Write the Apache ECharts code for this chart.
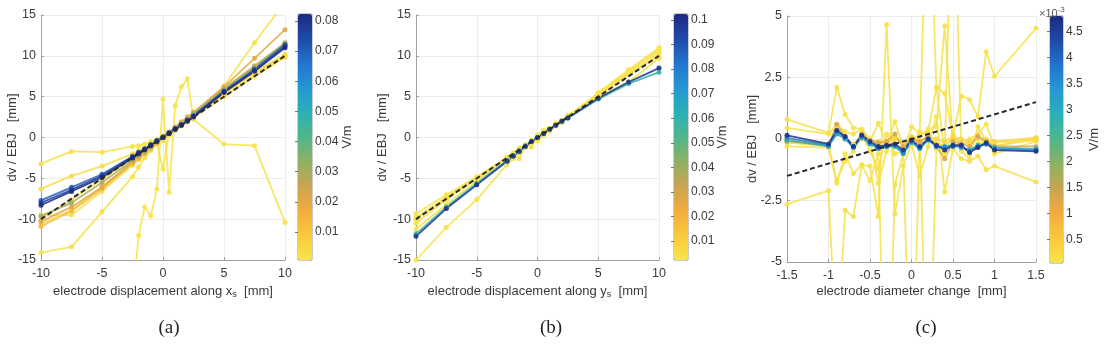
<!DOCTYPE html>
<html>
<head>
<meta charset="utf-8">
<title>dv / EBJ sensitivity</title>
<script src="https://cdn.jsdelivr.net/npm/echarts@6/dist/echarts.min.js"></script>
<style>
  html, body { margin: 0; padding: 0; background: #fff; }
  #main { width: 1111px; height: 354px; }
</style>
</head>
<body>
<div id="main"></div>
<script>
// x positions of the measurements
var xDisp = [-10, -7.5, -5, -2.5, -2, -1.5, -1, -0.5, 0, 0.5, 1, 1.5, 2, 2.5, 5, 7.5, 10];
var xDiam = [-1.5, -1, -0.9, -0.8, -0.7, -0.6, -0.5, -0.4, -0.3, -0.2, -0.1, 0, 0.1, 0.2, 0.3, 0.4, 0.5, 0.6, 0.7, 0.8, 0.9, 1, 1.5];

// (a) displacement along x_s : field value (V/m) of each line, and its dv/EBJ values
var fieldA = [0.001, 0.002, 0.002, 0.003, 0.002, 0.003, 0.004, 0.013, 0.021, 0.030, 0.070, 0.078, 0.082];
var dvA = [
  [-40, -32, -26, -20, -12.0, -8.5, -9.6, -6.3, 4.7, -6.7, 3.9, 6.2, 7.2, 2.2, -0.8, -1.0, -10.4],
  [-14.1, -13.4, -9.1, -4.8, -3.6, -2.5, -1.6, -0.8, -3.9, 0.6, 1.2, 1.7, 2.2, 2.8, 5.6, 8.0, 10.2],
  [-3.2, -1.7, -1.8, -1.1, -1.0, -0.8, -0.5, -0.2, 0.2, 0.7, 1.2, 1.7, 2.3, 2.9, 6.3, 11.6, 16.6],
  [-6.3, -4.7, -3.5, -2.0, -1.6, -1.3, -0.9, -0.4, 0.0, 0.5, 1.0, 1.5, 2.0, 2.6, 5.3, 7.8, 10.0],
  [-9.5, -9.5, -6.6, -3.4, -2.7, -1.9, -1.3, -0.7, -0.4, 0.3, 0.8, 1.4, 1.9, 2.4, 5.4, 8.0, 10.1],
  [-10.0, -7.6, -5.1, -2.6, -2.1, -1.6, -1.1, -0.5, 0.0, 0.5, 1.0, 1.5, 2.0, 2.5, 5.0, 7.5, 9.8],
  [-10.6, -8.9, -6.0, -3.0, -2.5, -1.9, -1.3, -0.6, 0.0, 0.6, 1.2, 1.8, 2.4, 3.0, 5.9, 8.6, 11.3],
  [-10.9, -9.0, -6.3, -3.2, -2.6, -2.0, -1.4, -0.7, 0.0, 0.6, 1.3, 1.9, 2.5, 3.0, 6.0, 8.8, 11.5],
  [-10.3, -8.5, -6.1, -3.0, -2.4, -1.8, -1.2, -0.6, 0.0, 0.6, 1.2, 1.9, 2.5, 3.1, 6.2, 9.7, 13.2],
  [-9.6, -8.0, -5.5, -2.8, -2.2, -1.7, -1.1, -0.5, 0.0, 0.6, 1.2, 1.7, 2.3, 2.9, 5.9, 8.7, 11.6],
  [-7.7, -6.1, -4.5, -2.3, -1.8, -1.4, -0.9, -0.4, 0.1, 0.6, 1.1, 1.6, 2.1, 2.7, 5.7, 8.4, 11.4],
  [-8.0, -6.4, -4.7, -2.4, -1.9, -1.4, -0.9, -0.4, 0.0, 0.5, 1.0, 1.5, 2.1, 2.6, 5.6, 8.2, 11.2],
  [-8.3, -6.6, -4.9, -2.5, -2.0, -1.5, -1.0, -0.5, 0.0, 0.5, 1.0, 1.5, 2.0, 2.5, 5.5, 8.1, 11.0]
];

// (b) displacement along y_s
var fieldB = [0.003, 0.002, 0.003, 0.003, 0.002, 0.004, 0.060, 0.100];
var dvB = [
  [-15.0, -11.0, -7.6, -3.3, -2.6, -1.9, -1.2, -0.6, 0.0, 0.6, 1.1, 1.6, 2.1, 2.6, 5.1, 7.8, 10.3],
  [-11.2, -8.2, -5.3, -2.6, -2.1, -1.6, -1.0, -0.5, 0.0, 0.5, 1.0, 1.6, 2.1, 2.6, 5.3, 8.0, 10.9],
  [-10.5, -7.6, -5.0, -2.5, -2.0, -2.6, -1.0, -0.7, -0.2, 0.4, 0.9, 1.8, 1.8, 2.6, 5.4, 8.1, 10.6],
  [-9.8, -7.3, -4.9, -2.4, -1.9, -1.3, -0.9, -1.2, 0.3, 0.9, 1.1, 1.5, 2.0, 2.7, 5.2, 7.7, 10.0],
  [-9.3, -7.0, -4.8, -2.5, -2.0, -1.5, -0.9, -0.3, -0.4, 0.2, 0.8, 1.4, 2.0, 2.5, 5.5, 8.3, 11.0],
  [-10.0, -7.4, -5.0, -2.5, -2.0, -1.5, -1.0, -0.5, 0.0, 0.5, 1.0, 1.5, 2.0, 2.5, 5.0, 6.8, 9.7],
  [-11.8, -8.5, -5.6, -2.8, -2.2, -1.6, -1.0, -0.5, 0.0, 0.5, 1.0, 1.5, 2.0, 2.4, 4.7, 6.6, 8.0],
  [-12.1, -8.7, -5.8, -2.9, -2.3, -1.7, -1.1, -0.5, 0.0, 0.5, 1.0, 1.5, 2.0, 2.4, 4.8, 6.8, 8.5]
];

// (c) diameter change, field in units of 1e-3 V/m
var fieldC = [0.1, 0.1, 0.1, 0.1, 0.1, 0.2, 0.3, 1.3, 3.0, 3.6, 4.7];
var dvC = [
  [0.8, 0.25, 2.1, 1.0, 0.45, 0.4, -0.1, 0.65, -0.2, 0.7, -0.3, 0.0, 0.2, 0.3, 2.1, 1.85, 0.1, 1.75, 1.6, 0.9, 3.55, 2.55, 4.5],
  [0.45, 0.2, 0.6, 0.3, 0.2, 0.4, 0.0, -1.8, -0.5, 0.1, -0.3, -0.2, 0.1, 0.4, 0.5, 4.6, -0.2, -0.3, 0.0, 0.2, 0.6, -0.3, 0.05],
  [-2.65, -2.1, -9.0, -2.9, -3.15, -1.05, -1.1, -3.15, 4.65, -3.05, -1.1, -0.2, -1.5, -0.3, 0.9, -2.15, -0.4, -0.8, -0.9, -0.7, -1.25, -1.1, -1.75],
  [-0.3, -0.35, -1.8, -0.6, -1.4, -1.05, -1.7, -0.6, -14, -1.85, -0.6, -12, 0.3, 12, 2.1, -0.6, 0.2, -0.3, -0.6, -0.2, -0.1, -0.6, -0.1],
  [-0.1, -0.25, -1.7, -0.9, -0.5, 0.2, -0.5, -1.2, 0.2, -0.6, -0.5, 0.5, 0.2, -12, -0.4, -0.5, 12, -0.5, -0.8, 0.5, -0.1, -0.3, 0.0],
  [-0.15, -0.3, 0.5, 0.05, -0.25, 0.1, -0.1, -0.2, -0.15, 0.1, -0.25, 0.0, -0.2, 0.2, -0.2, -0.25, 0.0, -0.1, -0.2, 0.0, -0.1, -0.15, -0.05],
  [0.0, -0.2, 0.4, 0.0, -0.2, 0.0, -0.1, -0.1, -0.1, 0.0, -0.2, 0.1, -0.1, 0.1, 0.0, -0.1, 0.1, 0.0, -0.1, 0.1, 0.0, -0.1, 0.05],
  [-0.1, -0.25, 0.6, 0.1, -0.3, 0.2, -0.05, -0.15, -0.1, 0.2, -0.3, 0.0, -0.1, 0.1, -0.3, -0.8, -0.1, -0.2, -0.3, 0.1, -0.1, -0.3, -0.3],
  [-0.05, -0.3, 0.2, 0.0, -0.35, 0.05, -0.2, -0.4, -0.3, -0.3, -0.6, -0.15, -0.4, -0.05, -0.3, -0.3, -0.25, -0.35, -0.45, -0.25, -0.2, -0.35, -0.4],
  [0.05, -0.25, 0.3, 0.05, -0.3, 0.1, -0.15, -0.35, -0.3, -0.25, -0.55, -0.1, -0.35, 0.0, -0.3, -0.35, -0.3, -0.3, -0.5, -0.3, -0.2, -0.4, -0.45],
  [0.15, -0.2, 0.35, 0.1, -0.3, 0.15, -0.1, -0.3, -0.25, -0.2, -0.45, -0.05, -0.3, 0.0, -0.25, -0.45, -0.25, -0.25, -0.55, -0.35, -0.15, -0.45, -0.5]
];

// colour bar ranges and tick labels
var rangeA = [0.0007, 0.0823], ticksA = [0.01, 0.02, 0.03, 0.04, 0.05, 0.06, 0.07, 0.08];
var rangeB = [0.0023, 0.1024], ticksB = [0.01, 0.02, 0.03, 0.04, 0.05, 0.06, 0.07, 0.08, 0.09, 0.1];
var rangeC = [0.05, 4.8], ticksC = [0.5, 1, 1.5, 2, 2.5, 3, 3.5, 4, 4.5];

// parula-like map, low -> high
var cmap = ['#f7e44a', '#f9c93c', '#f4ab3e', '#c9a552', '#8fb064', '#4fb68a', '#2ab0b6', '#2697d4', '#2274cf', '#1f4aa8', '#1c2a80'];
var FONT = "'Liberation Sans', Arial, sans-serif";
var TXT = '#3a3a3a';

function hexRgb(h) {
  return [parseInt(h.substr(1, 2), 16), parseInt(h.substr(3, 2), 16), parseInt(h.substr(5, 2), 16)];
}
function mapColor(v, r) {
  var t = Math.max(0, Math.min(1, (v - r[0]) / (r[1] - r[0]))) * (cmap.length - 1);
  var i = Math.min(Math.floor(t), cmap.length - 2), f = t - i;
  var a = hexRgb(cmap[i]), b = hexRgb(cmap[i + 1]);
  return 'rgb(' + [0, 1, 2].map(function (k) { return Math.round(a[k] + (b[k] - a[k]) * f); }).join(',') + ')';
}

var subRich = {
  sub: { fontSize: 9, fontFamily: FONT, color: TXT, padding: [7, 0, 0, 0] }
};

var grids = [
  { left: 41, top: 15, width: 244, height: 245 },
  { left: 298, top: 14, width: 14, height: 246, show: true, borderColor: '#9a9a9a', borderWidth: 1 },
  { left: 416, top: 15, width: 243, height: 245 },
  { left: 674, top: 14, width: 14, height: 246, show: true, borderColor: '#9a9a9a', borderWidth: 1 },
  { left: 787, top: 16, width: 249, height: 246 },
  { left: 1050, top: 16, width: 13, height: 247, show: true, borderColor: '#9a9a9a', borderWidth: 1 }
];
grids.forEach(function (g) { g.outerBoundsMode = 'none'; });

function plotX(gi, min, max, step, name) {
  return {
    type: 'value', gridIndex: gi, min: min, max: max, interval: step,
    axisLine: { onZero: false, lineStyle: { color: '#a0a0a0' } },
    axisTick: { inside: true, length: 3, lineStyle: { color: '#a0a0a0' } },
    axisLabel: { color: TXT, fontSize: 12.5, fontFamily: FONT, margin: 7 },
    splitLine: { show: true, lineStyle: { color: '#ececec' } },
    name: name, nameLocation: 'middle', nameGap: 23, nameMoveOverlap: false,
    nameTextStyle: { color: TXT, fontSize: 13, fontFamily: FONT, rich: subRich }
  };
}
function plotY(gi, min, max, step, gap) {
  return {
    type: 'value', gridIndex: gi, min: min, max: max, interval: step,
    axisLine: { onZero: false, lineStyle: { color: '#a0a0a0' } },
    axisTick: { inside: true, length: 3, lineStyle: { color: '#a0a0a0' } },
    axisLabel: { color: TXT, fontSize: 12.5, fontFamily: FONT, margin: 5 },
    splitLine: { show: true, lineStyle: { color: '#ececec' } },
    name: 'dv / EBJ   [mm]', nameLocation: 'middle', nameGap: gap, nameRotate: 90, nameMoveOverlap: false,
    nameTextStyle: { color: TXT, fontSize: 13, fontFamily: FONT }
  };
}
function barX(gi) {
  return { type: 'value', gridIndex: gi, min: 0, max: 1, show: false };
}
function barY(gi, r, ticks, gap) {
  return {
    type: 'value', gridIndex: gi, min: r[0], max: r[1], position: 'right',
    axisLine: { show: false },
    axisTick: { show: true, inside: true, length: 3, customValues: ticks, lineStyle: { color: '#777' } },
    axisLabel: {
      show: true, customValues: ticks, color: TXT, fontSize: 12, fontFamily: FONT, margin: 3,
      formatter: function (v) { return String(+v.toFixed(3)); }
    },
    splitLine: { show: false },
    name: 'V/m', nameLocation: 'middle', nameGap: gap, nameRotate: 90, nameMoveOverlap: false,
    nameTextStyle: { color: TXT, fontSize: 13, fontFamily: FONT }
  };
}

var series = [];
function addLines(xs, rows, fields, range, gi) {
  rows.forEach(function (ys, k) {
    var col = mapColor(fields[k], range);
    series.push({
      type: 'line', xAxisIndex: gi, yAxisIndex: gi,
      data: xs.map(function (x, i) { return [x, ys[i]]; }),
      symbol: 'circle', symbolSize: 5, clip: true, silent: true,
      lineStyle: { color: col, width: 1.8, opacity: 0.85 },
      itemStyle: { color: col, opacity: 0.9 }
    });
  });
}
function addIdentity(lo, hi, gi) {
  series.push({
    type: 'line', xAxisIndex: gi, yAxisIndex: gi, data: [[lo, lo], [hi, hi]],
    symbol: 'none', silent: true, z: 5,
    lineStyle: { color: '#2a2a2a', width: 2, type: [5, 3] }
  });
}
addLines(xDisp, dvA, fieldA, rangeA, 0);
addIdentity(-10, 10, 0);
addLines(xDisp, dvB, fieldB, rangeB, 2);
addIdentity(-10, 10, 2);
addLines(xDiam, dvC, fieldC, rangeC, 4);
addIdentity(-1.5, 1.5, 4);

function colourBar(left, top, w, h, r) {
  return {
    type: 'continuous', seriesIndex: [], min: r[0], max: r[1], inRange: { color: cmap },
    left: left, top: top, itemWidth: w, itemHeight: h, padding: 0,
    calculable: false, hoverLink: false, text: null, orient: 'vertical'
  };
}

var capStyle = { fontFamily: "'Liberation Serif', 'DejaVu Serif', serif", fontSize: 19, fontWeight: 'normal', color: '#222' };

var option = {
  animation: false,
  backgroundColor: '#fff',
  title: [
    { text: '(a)', left: 164, top: 314, textAlign: 'center', textStyle: capStyle },
    { text: '(b)', left: 546, top: 314, textAlign: 'center', textStyle: capStyle },
    { text: '(c)', left: 921, top: 314, textAlign: 'center', textStyle: capStyle },
    {
      text: '×10{sup|-3}', left: 1034, top: 1,
      textStyle: { fontFamily: FONT, fontSize: 11, fontWeight: 'normal', color: '#555',
        rich: { sup: { fontSize: 8, color: '#555', padding: [0, 0, 7, 0] } } }
    }
  ],
  grid: grids,
  xAxis: [
    plotX(0, -10, 10, 5, 'electrode displacement along x{sub|s}  [mm]'), barX(1),
    plotX(2, -10, 10, 5, 'electrode displacement along y{sub|s}  [mm]'), barX(3),
    plotX(4, -1.5, 1.5, 0.5, 'electrode diameter change  [mm]'), barX(5)
  ],
  yAxis: [
    plotY(0, -15, 15, 5, 22), barY(1, rangeA, ticksA, 29),
    plotY(2, -15, 15, 5, 27), barY(3, rangeB, ticksB, 28),
    plotY(4, -5, 5, 2.5, 28), barY(5, rangeC, ticksC, 25)
  ],
  visualMap: [
    colourBar(298, 14, 14, 246, rangeA),
    colourBar(674, 14, 14, 246, rangeB),
    colourBar(1050, 16, 13, 247, rangeC)
  ],
  series: series
};

var chart = echarts.init(document.getElementById('main'));
chart.setOption(option);
</script>
</body>
</html>
